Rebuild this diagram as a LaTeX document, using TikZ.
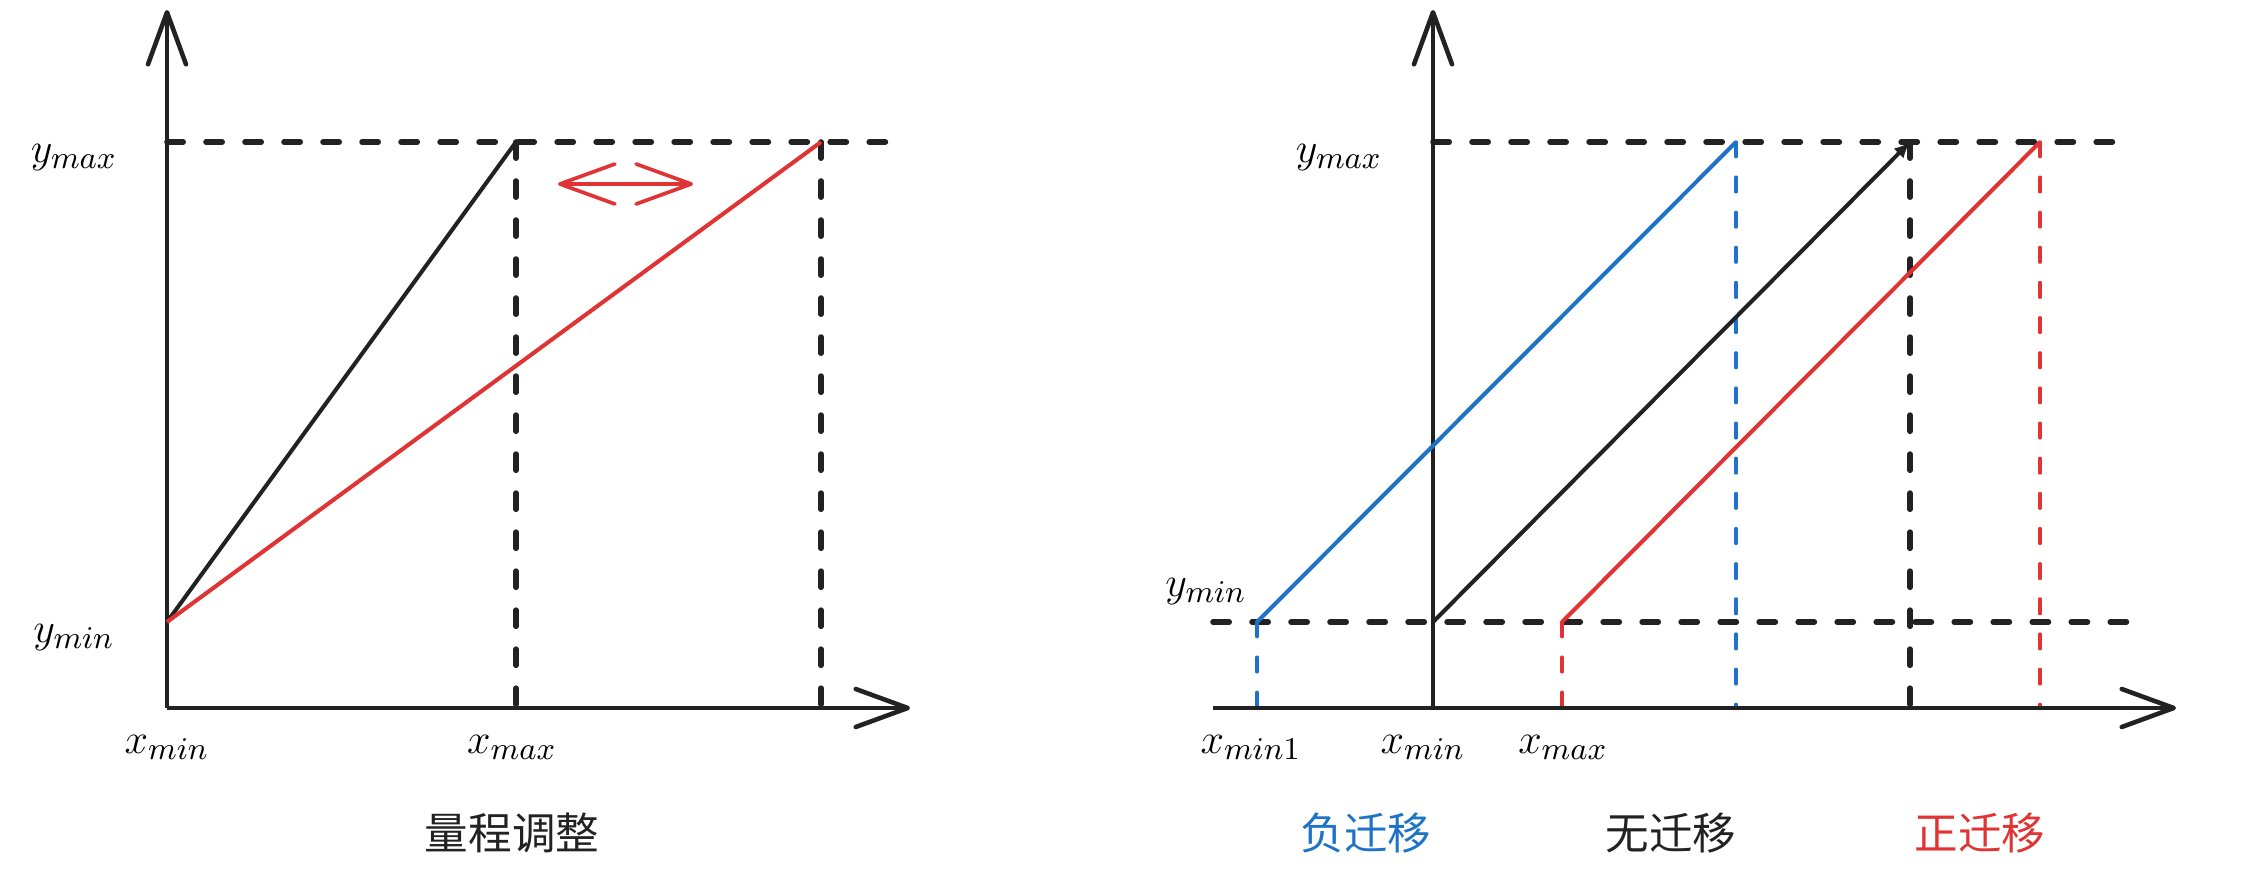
\documentclass[tikz,border=0pt]{standalone}
\usepackage{fontspec}
\usepackage{xcolor}
\usepackage{tikz}
\usetikzlibrary{arrows.meta}
\newfontfamily\cjk{Noto Sans CJK SC}
\definecolor{axisblack}{HTML}{222222}
\definecolor{linered}{HTML}{E03434}
\definecolor{lineblue}{HTML}{1E73C6}
\tikzset{
  axis/.style={draw=axisblack,line width=1.3pt,-{Straight Barb[length=5.2mm,width=3.8mm,round]}},
  thickdash/.style={draw=axisblack,line width=1.6pt,line cap=round,dash pattern=on 4.6pt off 6.5pt},
  thindash/.style={line width=0.95pt,line cap=round,dash pattern=on 4.2pt off 5.8pt},
  curve/.style={line width=1.15pt},
  lbl/.style={anchor=base,inner sep=0pt,font=\fontsize{13}{15}\selectfont},
  title/.style={anchor=base,inner sep=0pt,font=\cjk\fontsize{12.4}{14}\selectfont},
}
\begin{document}
\begin{tikzpicture}[x=0.1mm,y=-0.1mm]
  \useasboundingbox (0,0) rectangle (2267,868);
  % left: range adjustment
  \begin{scope}
    \coordinate (o1) at (167,708);
    \coordinate (ytip1) at (167,10);
    \coordinate (xtip1) at (910,708);
    \coordinate (ymin1) at (167,622);
    \coordinate (ymax1) at (167,142);
    \coordinate (yend1) at (893,142);
    \coordinate (top1) at (516,142);
    \coordinate (top2) at (821,142);
    \coordinate (bot1) at (516,708);
    \coordinate (bot2) at (821,708);
    \coordinate (arl) at (558,184);
    \coordinate (arr) at (693,184);
  \end{scope}
  \begin{scope}[every edge/.style={draw,thickdash}]
    \path (ymax1) edge (yend1);
    \path (top1) edge (bot1);
    \path (top2) edge (bot2);
  \end{scope}
  \draw[axis] (o1) -- (ytip1);
  \draw[axis] (o1) -- (xtip1);
  \draw[curve,axisblack] (ymin1) -- (top1);
  \draw[curve,linered] (ymin1) -- (top2);
  \draw[linered,line width=1.05pt,{Straight Barb[length=5.5mm,width=4mm,round]}-{Straight Barb[length=5.5mm,width=4mm,round]}] (arl) -- (arr);
  \node[lbl] (lymax1) at (74,162) {$y_{max}$};
  \node[lbl] (lymin1) at (74,642) {$y_{min}$};
  \node[lbl] (lxmin1) at (167,753) {$x_{min}$};
  \node[lbl] (lxmax1) at (512,753) {$x_{max}$};
  \node[title,axisblack] (t1) at (512,849) {量程调整};
  % right: zero shift
  \begin{scope}
    \coordinate (o2) at (1433,708);
    \coordinate (ytip2) at (1433,10);
    \coordinate (xst2) at (1213,708);
    \coordinate (xtip2) at (2176,708);
    \coordinate (ymin2) at (1433,622);
    \coordinate (yminl) at (1213,622);
    \coordinate (yminr) at (2132,622);
    \coordinate (ymax2) at (1433,142);
    \coordinate (ymaxr) at (2118,142);
    \coordinate (bs) at (1257,622);
    \coordinate (be) at (1736,142);
    \coordinate (ke) at (1910,142);
    \coordinate (rs) at (1562,622);
    \coordinate (re) at (2040,142);
    \coordinate (bsb) at (1257,708);
    \coordinate (beb) at (1736,708);
    \coordinate (keb) at (1910,708);
    \coordinate (rsb) at (1562,708);
    \coordinate (reb) at (2040,708);
  \end{scope}
  \begin{scope}[every edge/.style={draw,thickdash}]
    \path (ymax2) edge (ymaxr);
    \path (yminl) edge (yminr);
    \path (ke) edge (keb);
  \end{scope}
  \begin{scope}[every edge/.style={draw,thindash,lineblue}]
    \path (bs) edge (bsb);
    \path (be) edge (beb);
  \end{scope}
  \begin{scope}[every edge/.style={draw,thindash,linered}]
    \path (rs) edge (rsb);
    \path (re) edge (reb);
  \end{scope}
  \draw[axis] (xst2) -- (xtip2);
  \draw[axis] (o2) -- (ytip2);
  \draw[curve,lineblue] (bs) -- (be);
  \draw[curve,axisblack,-{Latex[length=1.6mm,width=1.4mm]}] (ymin2) -- (ke);
  \draw[curve,linered] (rs) -- (re);
  \node[lbl] (lymax2) at (1339,162) {$y_{max}$};
  \node[lbl] (lymin2) at (1206,596) {$y_{min}$};
  \node[lbl] (lxmin21) at (1251,753) {$x_{min1}$};
  \node[lbl] (lxmin2) at (1423,753) {$x_{min}$};
  \node[lbl] (lxmax2) at (1563,753) {$x_{max}$};
  \node[title,lineblue] (t2) at (1366,849) {负迁移};
  \node[title,axisblack] (t3) at (1671,849) {无迁移};
  \node[title,linered] (t4) at (1980,849) {正迁移};
\end{tikzpicture}
\end{document}
